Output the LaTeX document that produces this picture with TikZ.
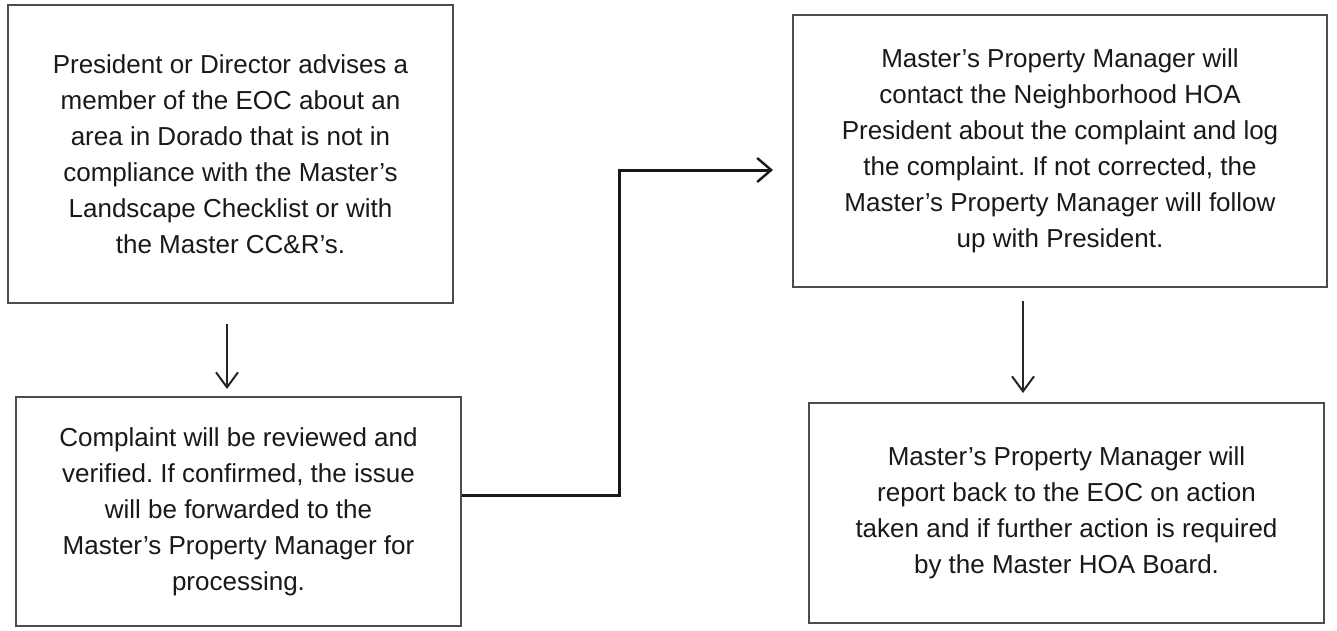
\documentclass[tikz,border=0pt]{standalone}
\usepackage{fontspec}
\setmainfont{Liberation Sans}
\usetikzlibrary{arrows.meta}
\begin{document}
\frenchspacing
\begin{tikzpicture}[x=1pt,y=-1pt,
  box/.style={draw=black!70, line width=2pt, rectangle, inner sep=0pt,
    align=center, font=\fontsize{26}{36}\selectfont\frenchspacing, text=black!90},
  arr/.style={line width=2pt, black!85, -{Straight Barb[length=15pt,width=22pt,line width=2pt]}},
  conn/.style={line width=3pt, black!90, -{Straight Barb[length=14pt,width=24pt,line width=2.4pt]}}]
\useasboundingbox (0,0) rectangle (1337,630);
\fill[white] (0,0) rectangle (1337,630);
\node[box, minimum width=445pt, minimum height=298pt] (box1) at (230.5,154)
  {President or Director advises a\\member of the EOC about an\\area in Dorado that is not in\\compliance with the Master's\\Landscape Checklist or with\\the Master CC\&R's.};
\node[box, minimum width=445pt, minimum height=229pt] (box2) at (238.5,511.5)
  {Complaint will be reviewed and\\verified. If confirmed, the issue\\will be forwarded to the\\Master's Property Manager for\\processing.};
\node[box, minimum width=534pt, minimum height=272pt] (box3) at (1060,151)
  {Master's Property Manager will\\contact the Neighborhood HOA\\President about the complaint and log\\the complaint. If not corrected, the\\Master's Property Manager will follow\\up with President.};
\node[box, minimum width=515pt, minimum height=220pt] (box4) at (1066.5,513)
  {Master's Property Manager will\\report back to the EOC on action\\taken and if further action is required\\by the Master HOA Board.};
\coordinate (a1) at (227,0);
\coordinate (a2) at (1023,0);
\coordinate (k1) at (619,495);
\coordinate (k2) at (619,170);
\draw[arr, shorten <=20pt, shorten >=7pt] (box1.south -| a1) -- (box2.north -| a1);
\draw[arr, shorten <=13pt, shorten >=9pt] (box3.south -| a2) -- (box4.north -| a2);
\draw[conn, shorten >=19pt] (box2.east |- k1) -- (k1) -- (k2) -- (box3.west |- k2);
\end{tikzpicture}
\end{document}
